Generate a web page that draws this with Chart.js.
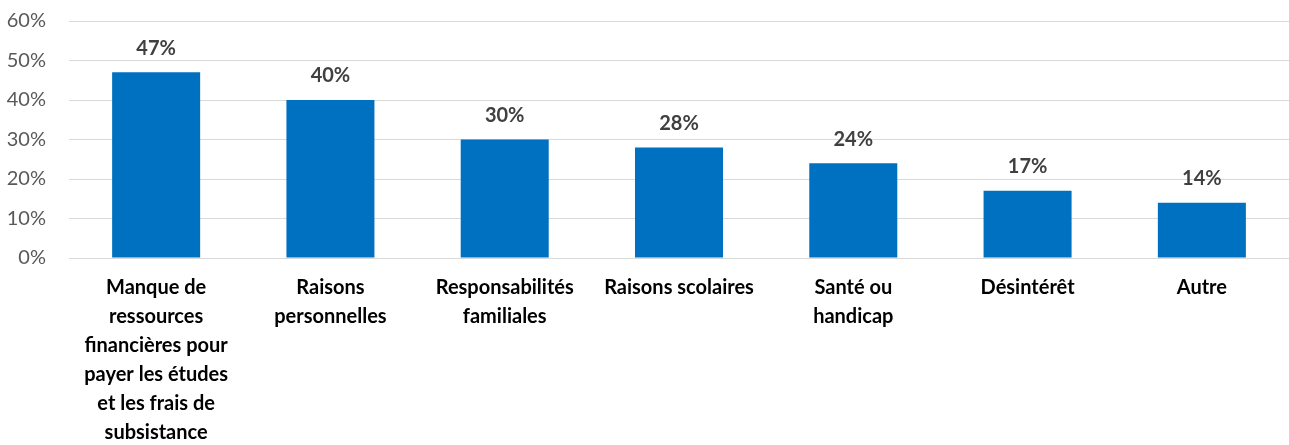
<!DOCTYPE html>
<html>
<head>
<meta charset="utf-8">
<script src="https://cdn.jsdelivr.net/npm/chart.js@4/dist/chart.umd.min.js"></script>
<style>
  html, body { margin: 0; padding: 0; background: #fff; }
  #wrap { width: 1289px; height: 445px; }
</style>
</head>
<body>
<div id="wrap"><canvas id="chart"></canvas></div>
<script>
// categories (pre-wrapped lines) and values in %
const categories = [
  ["Manque de", "ressources", "financières pour", "payer les études", "et les frais de", "subsistance"],
  ["Raisons", "personnelles"],
  ["Responsabilités", "familiales"],
  ["Raisons scolaires"],
  ["Santé ou", "handicap"],
  ["Désintérêt"],
  ["Autre"]
];
const values = [47, 40, 30, 28, 24, 17, 14];
const yTicks = [0, 10, 20, 30, 40, 50, 60];

////// data labels above bars
const barLabels = {
  id: 'barLabels',
  afterDatasetsDraw(chart) {
    const ctx = chart.ctx;
    const meta = chart.getDatasetMeta(0);
    ctx.save();
    ctx.font = 'bold 20px Lato';
    ctx.fillStyle = '#404040';
    ctx.textAlign = 'center';
    ctx.textBaseline = 'middle';
    meta.data.forEach((bar, i) => {
      ctx.fillText(values[i] + '%', bar.x, bar.y - 24);
    });
    ctx.restore();
  }
};

new Chart(document.getElementById('chart'), {
  type: 'bar',
  data: {
    labels: categories,
    datasets: [{
      data: values,
      backgroundColor: '#0070C0',
      borderWidth: 0,
      categoryPercentage: 1,
      barPercentage: 0.505
    }]
  },
  options: {
    responsive: true,
    maintainAspectRatio: false,
    animation: false,
    layout: { padding: { top: 21, right: 0, bottom: 0, left: 0 } },
    plugins: { legend: { display: false }, tooltip: { enabled: false } },
    scales: {
      x: {
        grid: { display: false, drawTicks: false },
        border: { display: false },
        ticks: {
          maxRotation: 0,
          autoSkip: false,
          padding: 15,
          color: '#000000',
          font: { family: 'Lato', size: 20, weight: 'bold', lineHeight: '29px' }
        },
        afterFit(scale) { scale.height = 187; }
      },
      y: {
        min: 0,
        max: 60,
        afterBuildTicks(scale) { scale.ticks = yTicks.map(v => ({ value: v })); },
        grid: { color: '#d9d9d9', lineWidth: 1, drawTicks: true, tickLength: 23, tickColor: 'rgba(0,0,0,0)' },
        border: { display: false },
        ticks: {
          padding: 0,
          color: '#595959',
          font: { family: 'Lato', size: 20 },
          callback: v => v + '%'
        },
        afterFit(scale) { scale.width = 69; }
      }
    }
  },
  plugins: [barLabels]
});
</script>
</body>
</html>
